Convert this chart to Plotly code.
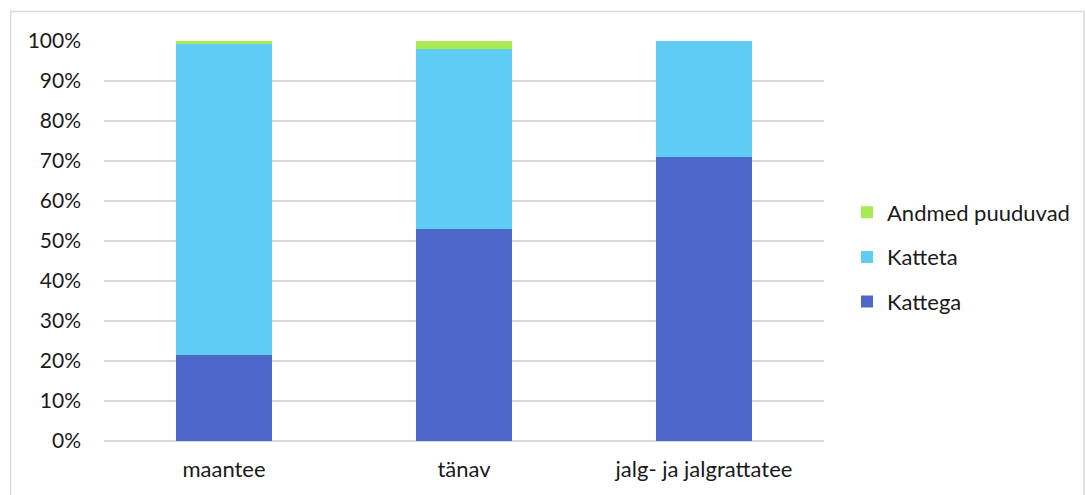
import plotly.graph_objects as go

categories = ["maantee", "tänav", "jalg- ja jalgrattatee"]
kattega = [0.216, 0.531, 0.711]
katteta = [0.776, 0.448, 0.289]
andmed_puuduvad = [0.008, 0.021, 0.0]

series = [
    ("Kattega", kattega, "#4E67C8"),
    ("Katteta", katteta, "#5ECCF3"),
    ("Andmed puuduvad", andmed_puuduvad, "#A7EA52"),
]

W, H = 1086, 495
L, R, T, B = 104, 261, 41, 54
pw, ph = W - L - R, H - T - B

fig = go.Figure()
for i, (name, vals, col) in enumerate(series):
    fig.add_trace(go.Bar(
        x=categories, y=vals, name=name,
        marker=dict(color=col, line=dict(width=0)),
        legendgroup=name,
        legendrank=1000 - i,
    ))

def px_x(p):
    return (p - L) / pw

def px_y(p):
    return (H - B - p) / ph

fig.update_layout(
    width=W, height=H,
    margin=dict(l=L, r=R, t=T, b=B, pad=0),
    barmode="stack",
    bargap=0.6,
    plot_bgcolor="white",
    paper_bgcolor="white",
    font=dict(family="Lato, Carlito, Calibri, sans-serif", size=21, color="#1a1a1a"),
    showlegend=True,
    legend=dict(
        x=px_x(847), xanchor="left",
        y=px_y(257), yanchor="middle",
        traceorder="grouped",
        tracegroupgap=13,
        font=dict(size=22),
        itemwidth=30,
        bgcolor="rgba(0,0,0,0)",
    ),
    xaxis=dict(
        showgrid=False, showline=False, ticks="", zeroline=False,
        ticklabelstandoff=13,
        tickfont=dict(size=22),
    ),
    yaxis=dict(
        range=[0, 1], tickvals=[i / 10 for i in range(11)],
        tickformat=".0%",
        showgrid=True, gridcolor="#D9D9D9", gridwidth=1.5,
        zeroline=True, zerolinecolor="#D9D9D9", zerolinewidth=1.5,
        showline=False, ticks="",
        ticklabelstandoff=22,
    ),
    shapes=[dict(
        type="rect", xref="paper", yref="paper",
        x0=px_x(10.5), x1=px_x(1085.5), y0=px_y(520), y1=px_y(11.5),
        line=dict(color="#D9D9D9", width=1.5), fillcolor="rgba(0,0,0,0)",
        layer="below",
    )],
)

fig.write_html("out.html")
